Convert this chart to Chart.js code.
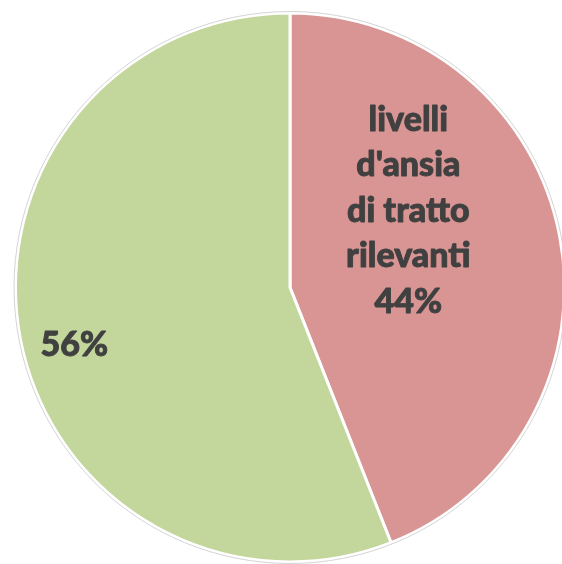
<!DOCTYPE html>
<html>
<head>
<meta charset="utf-8">
<script src="https://cdn.jsdelivr.net/npm/chart.js@4"></script>
<style>
  html, body { margin: 0; padding: 0; background: #fff; overflow: hidden; }
  #wrap { position: absolute; left: 0; top: 0; width: 580px; height: 574px; }
</style>
</head>
<body>
<div id="wrap"><canvas id="pieChart"></canvas></div>
<script>
// slices, clockwise from 12 o'clock
const labels = ['livelli d\'ansia di tratto rilevanti', 'altro'];
const values = [44, 56];
const labelLines = [['livelli', 'd\'ansia', 'di tratto', 'rilevanti', '44%'], ['56%']];
const sliceColors = ['#D99594', '#C3D69B'];

// where each text block sits, as a fraction of the radius from the centre
const labelOffsets = [[0.431, -0.279], [-0.786, 0.210]];

const pieLabels = {
    id: 'pieLabels',
    afterDraw(chart) {
        const ctx = chart.ctx;
        const arcs = chart.getDatasetMeta(0).data;
        const cx = arcs[0].x, cy = arcs[0].y, r = arcs[0].outerRadius;

        // thin grey rim around the pie
        ctx.save();
        ctx.beginPath();
        ctx.arc(cx, cy, r + 1.5, 0, Math.PI * 2);
        ctx.strokeStyle = '#d4d4d4';
        ctx.lineWidth = 1;
        ctx.stroke();

        ctx.fillStyle = '#404040';
        ctx.strokeStyle = '#404040';
        ctx.lineWidth = 0.9;
        ctx.lineJoin = 'round';
        ctx.font = '900 34px Lato';
        ctx.textAlign = 'center';
        ctx.textBaseline = 'middle';
        const lineH = 45.5;
        labelLines.forEach((lines, i) => {
            const x = cx + labelOffsets[i][0] * r;
            const y = cy + labelOffsets[i][1] * r;
            const top = y - (lines.length - 1) * lineH / 2;
            lines.forEach((t, j) => {
                ctx.fillText(t, x, top + j * lineH);
                ctx.strokeText(t, x, top + j * lineH);
            });
        });
        ctx.restore();
    }
};

new Chart(document.getElementById('pieChart'), {
    type: 'pie',
    data: {
        labels: labels,
        datasets: [{
            data: values,
            backgroundColor: sliceColors,
            borderColor: '#ffffff',
            borderWidth: 3
        }]
    },
    options: {
        responsive: true,
        maintainAspectRatio: false,
        animation: false,
        layout: { padding: { left: 14, right: 14, top: 10, bottom: 9 } },
        plugins: {
            legend: { display: false },
            tooltip: { enabled: false }
        }
    },
    plugins: [pieLabels]
});
</script>
</body>
</html>
